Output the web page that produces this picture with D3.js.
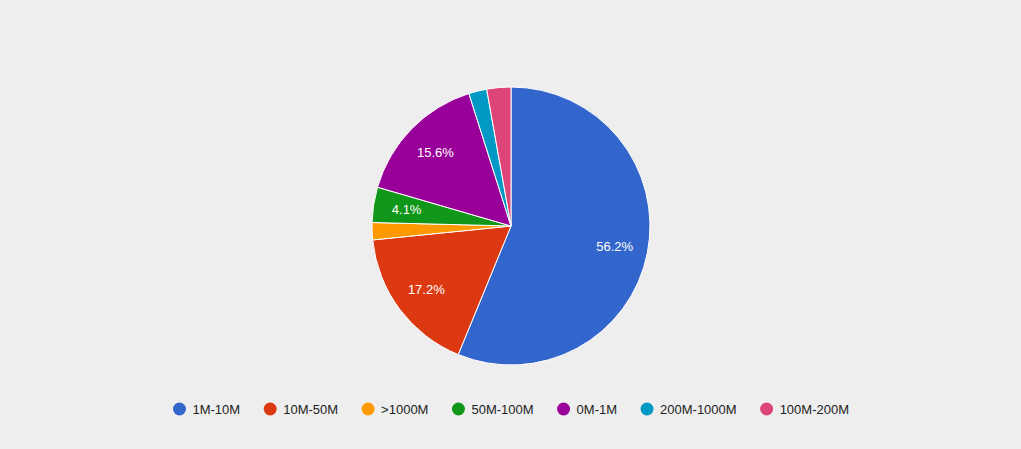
<!DOCTYPE html>
<html>
<head>
<meta charset="utf-8">
<script src="https://cdn.jsdelivr.net/npm/d3@7"></script>
<style>
  html, body { margin: 0; padding: 0; background: #eeeeee; }
  svg { display: block; }
</style>
</head>
<body>
<svg id="chart" width="1021" height="449"></svg>
<script>
const categories = ["1M-10M", "10M-50M", ">1000M", "50M-100M", "0M-1M", "200M-1000M", "100M-200M"];
const values = [56.2, 17.2, 2.0, 4.1, 15.6, 2.1, 2.8];
const colors = ["#3366cc", "#dc3912", "#ff9900", "#109618", "#990099", "#0099c6", "#dd4477"];

const svg = d3.select("#chart");
const W = 1021, H = 449;
svg.append("rect").attr("width", W).attr("height", H).attr("fill", "#eeeeee");

const cx = 511, cy = 226, r = 139;
const data = categories.map((c, i) => ({ name: c, value: values[i], color: colors[i] }));
const pie = d3.pie().value(d => d.value).sort(null);
const arcs = pie(data);
const arc = d3.arc().innerRadius(0).outerRadius(r);
const labelArc = d3.arc().innerRadius(r * 0.76).outerRadius(r * 0.76);

const g = svg.append("g").attr("transform", `translate(${cx},${cy})`);
g.selectAll("path.slice").data(arcs).enter().append("path")
  .attr("class", "slice")
  .attr("d", arc)
  .attr("fill", d => d.data.color)
  .attr("stroke", "#ffffff")
  .attr("stroke-width", 1);

g.selectAll("text.lbl").data(arcs.filter(d => d.data.value > 3)).enter().append("text")
  .attr("class", "lbl")
  .attr("transform", d => `translate(${labelArc.centroid(d)})`)
  .attr("text-anchor", "middle")
  .attr("dy", "0.35em")
  .attr("font-family", "Arial, 'Liberation Sans', sans-serif")
  .attr("font-size", 13)
  .attr("fill", "#ffffff")
  .text(d => d.data.value.toFixed(1) + "%");

// Legend
const legend = svg.append("g");
const items = legend.selectAll("g.item").data(data).enter().append("g").attr("class", "item");
items.append("circle").attr("r", 6.5).attr("cy", 0).attr("fill", d => d.color);
items.append("text")
  .attr("x", 13)
  .attr("dy", "0.35em")
  .attr("font-family", "Arial, 'Liberation Sans', sans-serif")
  .attr("font-size", 13)
  .attr("fill", "#222222")
  .text(d => d.name);

let xpos = 0;
const gap = 17;
const pos = [];
items.each(function(d) {
  const tw = d3.select(this).select("text").node().getComputedTextLength();
  pos.push(xpos);
  xpos += 6.5 + 13 + tw + gap + 6.5;
});
const totalW = xpos - gap - 6.5;
const startX = cx - totalW / 2 + 6.5;
items.attr("transform", (d, i) => `translate(${startX + pos[i]},409)`);
</script>
</body>
</html>
